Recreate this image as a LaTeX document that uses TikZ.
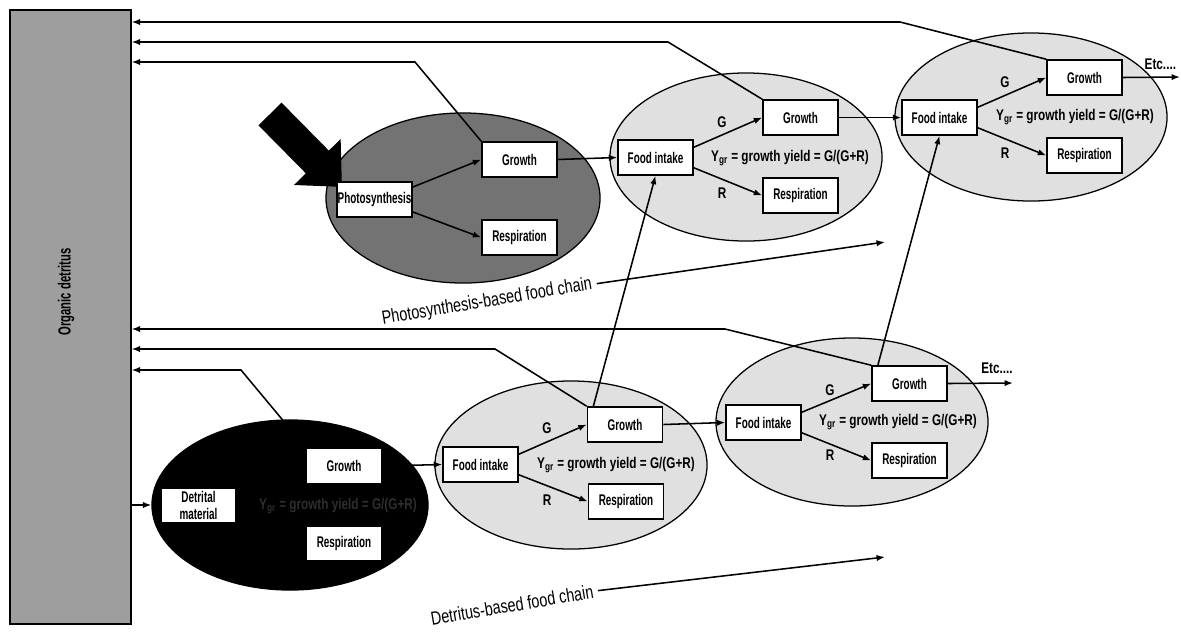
\documentclass[tikz,border=0pt]{standalone}
\usepackage{fontspec}
\setmainfont{Liberation Sans}
\newfontfamily\boxfont{Liberation Sans}[FakeStretch=0.64]
\newfontfamily\chainfont{Liberation Sans}[FakeStretch=0.76]
\usetikzlibrary{shapes.geometric,arrows.meta}

\begin{document}
\begin{tikzpicture}[x=0.025cm,y=-0.025cm,
	box/.style={draw,line width=1.1pt,fill=white,minimum width=1.875cm,minimum height=0.875cm,inner sep=0.5pt,align=center,font=\boxfont\bfseries\fontsize{11}{12}\selectfont},
	pool/.style={ellipse,draw,line width=0.9pt,inner sep=0pt,minimum width=6.8cm,minimum height=4.2cm,fill=black!12},
	flow/.style={-{Latex[length=6pt,width=4.5pt]},line width=1.1pt},
	yield/.style={font=\chainfont\bfseries\fontsize{11}{12}\selectfont},
	chain/.style={font=\chainfont\fontsize{13.5}{15}\selectfont,rotate=9.5}]
	
	\useasboundingbox (0,0) rectangle (1181,633);
	
	\node[draw,line width=0.9pt,fill=black!38,minimum width=3.025cm,minimum height=15.35cm,inner sep=0pt] (bar) at (70.5,317) {};
	\node[rotate=90,font=\boxfont\bfseries\fontsize{12.5}{14}\selectfont] (bartext) at (66,292) {Organic detritus};
	
	\node[pool,fill=black!55,minimum width=6.85cm,minimum height=4.25cm] (e1) at (463,198) {};
	\node[pool] (e2) at (746,157) {};
	\node[pool] (e3) at (1031,117) {};
	\node[pool] (e4) at (571,465) {};
	\node[pool] (e5) at (852,422) {};
	\node[pool,fill=black,minimum width=6.9cm,minimum height=4.25cm] (e6) at (290,505) {};
	
	\coordinate (sun) at (270,114);
	\coordinate (sunhit) at (342,187);
	\draw[-{Triangle[length=25pt,width=45pt]},line width=23pt] (sun) -- (sunhit);
	
	\node[box] (ph) at (374.5,199.5) {Photosynthesis};
	\node[box] (g1) at (519.5,159.5) {Growth};
	\node[box] (r1) at (519.5,237.5) {Respiration};
	
	\node[box] (fi2) at (655.5,157.5) {Food intake};
	\node[box] (g2) at (800.5,117.5) {Growth};
	\node[box] (r2) at (800.5,195.5) {Respiration};
	\node[yield] (y2) at (790,158) {Y\textsubscript{gr} = growth yield = G/(G+R)};
	\node[yield] (G2) at (722,122) {G};
	\node[yield] (R2) at (722,193) {R};
	
	\node[box] (fi3) at (939.5,117.5) {Food intake};
	\node[box] (g3) at (1084.5,77.5) {Growth};
	\node[box] (r3) at (1084.5,155.5) {Respiration};
	\node[yield] (y3) at (1075,117) {Y\textsubscript{gr} = growth yield = G/(G+R)};
	\node[yield] (G3) at (1005,82) {G};
	\node[yield] (R3) at (1005,153) {R};
	
	\node[box] (dm) at (198.5,505.5) {Detrital\\material};
	\node[box] (g6) at (344,466) {Growth};
	\node[box] (r6) at (344,543.5) {Respiration};
	\node[yield,text=black!82] (y6) at (338,506) {Y\textsubscript{gr} = growth yield = G/(G+R)};
	
	\node[box] (fi4) at (480.5,464.5) {Food intake};
	\node[box] (g4) at (625,424.5) {Growth};
	\node[box] (r4) at (626,501.5) {Respiration};
	\node[yield] (y4) at (616,465) {Y\textsubscript{gr} = growth yield = G/(G+R)};
	\node[yield] (G4) at (547,428) {G};
	\node[yield] (R4) at (547,500) {R};
	
	\node[box] (fi5) at (763.5,422.5) {Food intake};
	\node[box] (g5) at (909.5,383.5) {Growth};
	\node[box] (r5) at (909.5,460.5) {Respiration};
	\node[yield] (y5) at (898,422) {Y\textsubscript{gr} = growth yield = G/(G+R)};
	\node[yield] (G5) at (830,390) {G};
	\node[yield] (R5) at (830,455) {R};
	
	\node[chain] (pchain) at (487,302) {Photosynthesis-based food chain};
	\coordinate (ptip) at (885,242);
	\draw[flow] (pchain.east) -- (ptip);
	
	\node[chain] (dchain) at (512,605) {Detritus-based food chain};
	\coordinate (dtip) at (885,557);
	\draw[flow] (dchain.east) -- (dtip);
	
	\draw[flow] (ph.18) -- (g1.west);
	\draw[flow] (ph.-18) -- (r1.west);
	\draw[flow] (g1.east) -- (fi2.west);
	\draw[flow] (fi2.15) -- (g2.west);
	\draw[flow] (fi2.-15) -- (r2.west);
	\draw[flow] (g2.east) -- (fi3.west);
	\draw[flow] (fi3.15) -- (g3.west);
	\draw[flow] (fi3.-15) -- (r3.west);
	\coordinate (etc1) at (1180,77);
	\draw[flow] (g3.east) -- (etc1);
	\node[yield,anchor=south east] (etctop) at (1181,75) {Etc....};
	
	\draw[flow] (bar.east |- e6.west) -- (e6.west);
	\draw[flow] (g6.east) -- (fi4.west);
	\draw[flow] (fi4.15) -- (g4.west);
	\draw[flow] (fi4.-15) -- (r4.west);
	\draw[flow] (g4.east) -- (fi5.west);
	\draw[flow] (fi5.15) -- (g5.west);
	\draw[flow] (fi5.-15) -- (r5.west);
	\coordinate (etc2) at (1013,383);
	\draw[flow] (g5.east) -- (etc2);
	\node[yield,anchor=south] (etcbot) at (997,379) {Etc....};
	
	\draw[flow] (g4.150) -- (fi2.south);
	\draw[flow] (g5.150) -- (fi3.south);
	
	\coordinate (k1) at (900,22);
	\coordinate (k2) at (668,42);
	\coordinate (k3) at (415,62);
	\coordinate (k4) at (725,329);
	\coordinate (k5) at (495,349);
	\coordinate (k6) at (241,370);
	\draw[flow] (g3.north west) -- (k1) -- (k1 -| bar.east);
	\draw[flow] (g2.north west) -- (k2) -- (k2 -| bar.east);
	\draw[flow] (g1.north west) -- (k3) -- (k3 -| bar.east);
	\draw[flow] (g5.north west) -- (k4) -- (k4 -| bar.east);
	\draw[flow] (g4.north west) -- (k5) -- (k5 -| bar.east);
	\draw[flow] (g6.north west) -- (k6) -- (k6 -| bar.east);
\end{tikzpicture}
\end{document}
